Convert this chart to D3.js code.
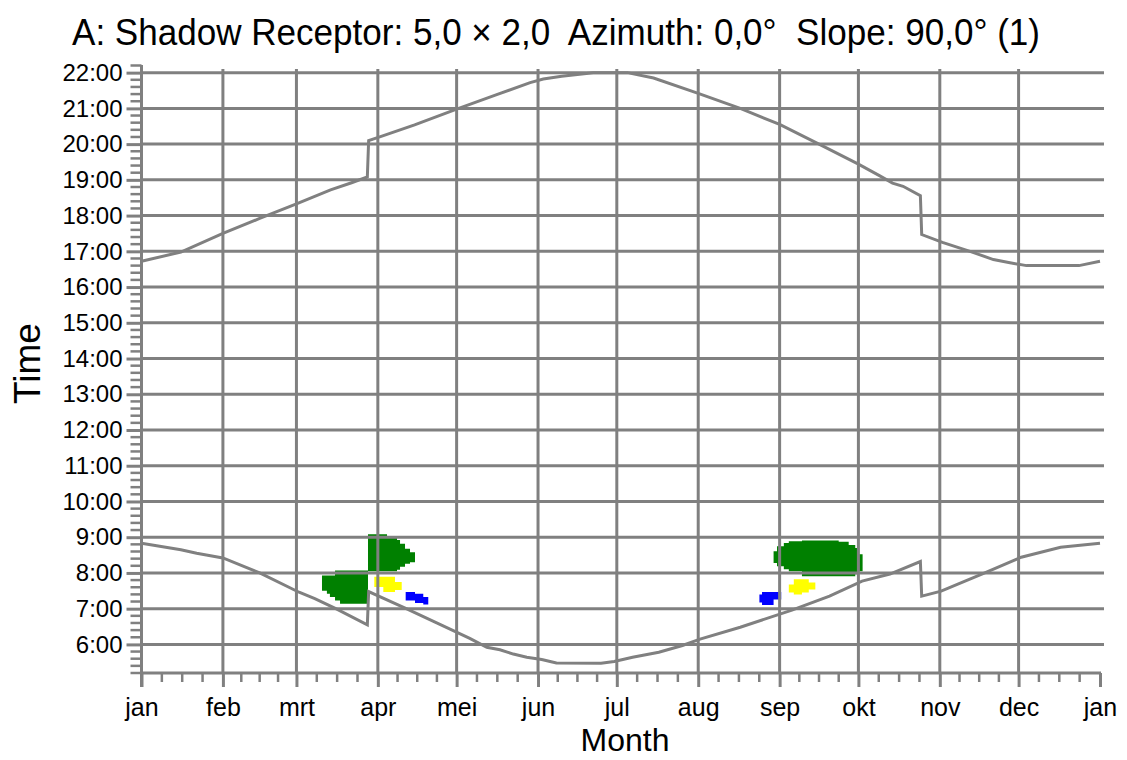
<!DOCTYPE html>
<html>
<head>
<meta charset="utf-8">
<script src="https://cdn.jsdelivr.net/npm/d3@7"></script>
<style>
  body { margin: 0; background: #fff; }
  svg text { font-family: "Liberation Sans", Arial, sans-serif; fill: #000; }
</style>
</head>
<body>
<svg id="chart" width="1127" height="760"></svg>
<script>
// tick labels
var monthLabels = ["jan", "feb", "mrt", "apr", "mei", "jun", "jul", "aug", "sep", "okt", "nov", "dec", "jan"];
var hourValues = [6, 7, 8, 9, 10, 11, 12, 13, 14, 15, 16, 17, 18, 19, 20, 21, 22];
var hourLabels = ["6:00", "7:00", "8:00", "9:00", "10:00", "11:00", "12:00", "13:00", "14:00",
                  "15:00", "16:00", "17:00", "18:00", "19:00", "20:00", "21:00", "22:00"];

// sunset / sunrise (day of year, decimal hours)
var sunsetDays  = [0, 15, 31, 45, 59, 72, 80, 86.0, 86.5, 91, 104, 120, 135, 148, 153, 160, 166, 172, 185, 195,
                   212, 228, 243, 258, 273, 281, 286, 290, 296.6, 297.1, 305, 315.5, 324.4, 330.7, 337, 357, 365];
var sunsetTimes = [16.72, 16.98, 17.5, 17.92, 18.33, 18.72, 18.92, 19.08, 20.1, 20.21, 20.54, 20.98, 21.38, 21.72, 21.82, 21.9, 21.95, 22.0, 22.0, 21.85,
                   21.42, 21.0, 20.55, 20.0, 19.44, 19.12, 18.91, 18.82, 18.56, 17.47, 17.25, 17.0, 16.77, 16.68, 16.6, 16.6, 16.72];
var sunriseDays  = [0, 15, 21, 31, 45, 60, 66, 74, 86.0, 86.5, 100, 117.5, 125, 131.5, 136.5, 141.6, 146.7, 152.4, 158, 175, 180,
                    187, 197, 206, 212.7, 228, 247.7, 262, 274.4, 285, 296.6, 297.1, 304.5, 320, 335, 350, 365];
var sunriseTimes = [8.83, 8.65, 8.55, 8.42, 8.0, 7.46, 7.28, 7.0, 6.55, 7.48, 7.03, 6.43, 6.17, 5.92, 5.85, 5.73, 5.64, 5.58, 5.48, 5.47, 5.52,
                    5.64, 5.78, 5.97, 6.15, 6.48, 6.96, 7.35, 7.77, 7.97, 8.32, 7.35, 7.49, 7.97, 8.44, 8.72, 8.83];

// shadow periods: [day, from, to]
var greenMarch = [[68.73, 7.50, 7.93], [70.6, 7.42, 7.93], [71.75, 7.33, 7.93], [73.7, 7.23, 8.07], [75.6, 7.14, 8.07], [86.25, 7.14, 8.07]];
var greenApril = [[86.25, 8.05, 9.08], [93.5, 8.05, 9.03], [97.3, 8.09, 8.92], [98.45, 8.17, 8.82], [100.35, 8.26, 8.68], [102.25, 8.30, 8.58], [104.15, 8.30, 8.58]];
var yellowApril = [[88.65, 7.61, 7.89], [92.08, 7.47, 7.89], [96.53, 7.52, 7.75], [99.09, 7.52, 7.75]];
var blueApril = [[100.6, 7.23, 7.47], [104.15, 7.16, 7.42], [107.3, 7.12, 7.33], [109.2, 7.12, 7.33]];
var greenSept = [[240.7, 8.28, 8.61], [242.0, 8.19, 8.75], [244.6, 8.10, 8.84], [246.5, 8.05, 8.89], [251.5, 7.91, 8.91],
                 [265.5, 7.91, 8.87], [269.3, 7.91, 8.78], [271.8, 7.96, 8.70], [273.2, 8.05, 8.52], [274.6, 8.05, 8.52]];
var yellowSept = [[246.5, 7.45, 7.68], [248.4, 7.40, 7.82], [251.5, 7.45, 7.82], [254.1, 7.54, 7.73], [256.6, 7.54, 7.73]];
var blueSept = [[235.3, 7.17, 7.40], [236.3, 7.10, 7.47], [240.7, 7.26, 7.47], [243.6, 7.26, 7.47]];

var svg = d3.select("#chart");
var grey = "#808080";
var base = Date.UTC(2023, 0, 1);
function dayDate(d) { return new Date(base + d * 864e5); }

// scales
var x = d3.scaleUtc().domain([dayDate(0), dayDate(365)]).range([141.5, 1100]);
var y = d3.scaleLinear().domain([5.2, 22.2]).range([673, 65.5]);

// shadow areas
var area = d3.area().curve(d3.curveStepAfter)
  .x(function(d) { return x(dayDate(d[0])); })
  .y0(function(d) { return y(d[1]); })
  .y1(function(d) { return y(d[2]); });
[[greenMarch, "#008000"], [greenApril, "#008000"], [yellowApril, "#ffff00"], [blueApril, "#0000ff"],
 [greenSept, "#008000"], [yellowSept, "#ffff00"], [blueSept, "#0000ff"]].forEach(function(s) {
  svg.append("path").datum(s[0]).attr("d", area).attr("fill", s[1]);
});

// horizontal grid
svg.append("g").selectAll("line").data(hourValues).enter().append("line")
  .attr("x1", 141.5).attr("x2", 1104)
  .attr("y1", function(d) { return y(d); }).attr("y2", function(d) { return y(d); })
  .attr("stroke", grey).attr("stroke-width", 3);

// vertical grid
var months = d3.utcMonth.range(dayDate(0), dayDate(365.5));
svg.append("g").selectAll("line").data(months.slice(1, 12)).enter().append("line")
  .attr("x1", function(d) { return x(d); }).attr("x2", function(d) { return x(d); })
  .attr("y1", 69).attr("y2", 673)
  .attr("stroke", grey).attr("stroke-width", 3);

// y axis
var gy = svg.append("g").attr("transform", "translate(141.5,0)")
  .call(d3.axisLeft(y).tickValues(hourValues).tickFormat(function(d, i) { return hourLabels[i]; })
    .tickSize(15).tickPadding(4));
gy.select(".domain").remove();
gy.selectAll("line").attr("stroke", grey).attr("stroke-width", 3);
gy.selectAll("text").attr("font-size", 24).attr("font-family", "Liberation Sans, Arial, sans-serif");
gy.append("line").attr("y1", 65).attr("y2", 687).attr("stroke", grey).attr("stroke-width", 3);
// minor y ticks every 12 min
var minorY = d3.range(26, 112).filter(function(i) { return i % 5 !== 0; }).map(function(i) { return i / 5; });
gy.selectAll(".minor").data(minorY).enter().append("line").attr("class", "minor")
  .attr("x1", -11).attr("x2", 0)
  .attr("y1", function(d) { return y(d); }).attr("y2", function(d) { return y(d); })
  .attr("stroke", grey).attr("stroke-width", 2.5);

// x axis
var gx = svg.append("g").attr("transform", "translate(0,673)")
  .call(d3.axisBottom(x).tickValues(months).tickFormat(function(d, i) { return monthLabels[i]; })
    .tickSize(14));
gx.select(".domain").remove();
gx.selectAll("line").attr("stroke", grey).attr("stroke-width", 3);
gx.selectAll("text").attr("font-size", 25).attr("font-family", "Liberation Sans, Arial, sans-serif")
  .attr("y", 43).attr("dy", 0);
gx.append("line").attr("x1", 141.5).attr("x2", 1101).attr("stroke", grey).attr("stroke-width", 3);
// minor x ticks at quarter months
var minorX = [];
months.slice(0, 12).forEach(function(m, i) {
  var next = months[i + 1];
  for (var k = 1; k < 4; k++) minorX.push(new Date(+m + (next - m) * k / 4));
});
gx.selectAll(".minor").data(minorX).enter().append("line").attr("class", "minor")
  .attr("x1", function(d) { return x(d); }).attr("x2", function(d) { return x(d); })
  .attr("y1", 0).attr("y2", 9)
  .attr("stroke", grey).attr("stroke-width", 2.5);

// sunrise and sunset lines
var line = d3.line()
  .x(function(d) { return x(dayDate(d[0])); })
  .y(function(d) { return y(d[1]); });
[[sunsetDays, sunsetTimes], [sunriseDays, sunriseTimes]].forEach(function(s) {
  svg.append("path").datum(d3.zip(s[0], s[1])).attr("d", line)
    .attr("fill", "none").attr("stroke", grey).attr("stroke-width", 3);
});

// titles
svg.append("text").attr("x", 72).attr("y", 45)
  .attr("font-size", 37).attr("textLength", 968).attr("lengthAdjust", "spacingAndGlyphs")
  .style("white-space", "pre")
  .text("A: Shadow Receptor: 5,0 \u00d7 2,0  Azimuth: 0,0\u00b0  Slope: 90,0\u00b0 (1)");
svg.append("text").attr("x", 625).attr("y", 751).attr("text-anchor", "middle")
  .attr("font-size", 32).text("Month");
svg.append("text").attr("transform", "translate(40,363.5) rotate(-90)").attr("text-anchor", "middle")
  .attr("font-size", 37).text("Time");
</script>
</body>
</html>
